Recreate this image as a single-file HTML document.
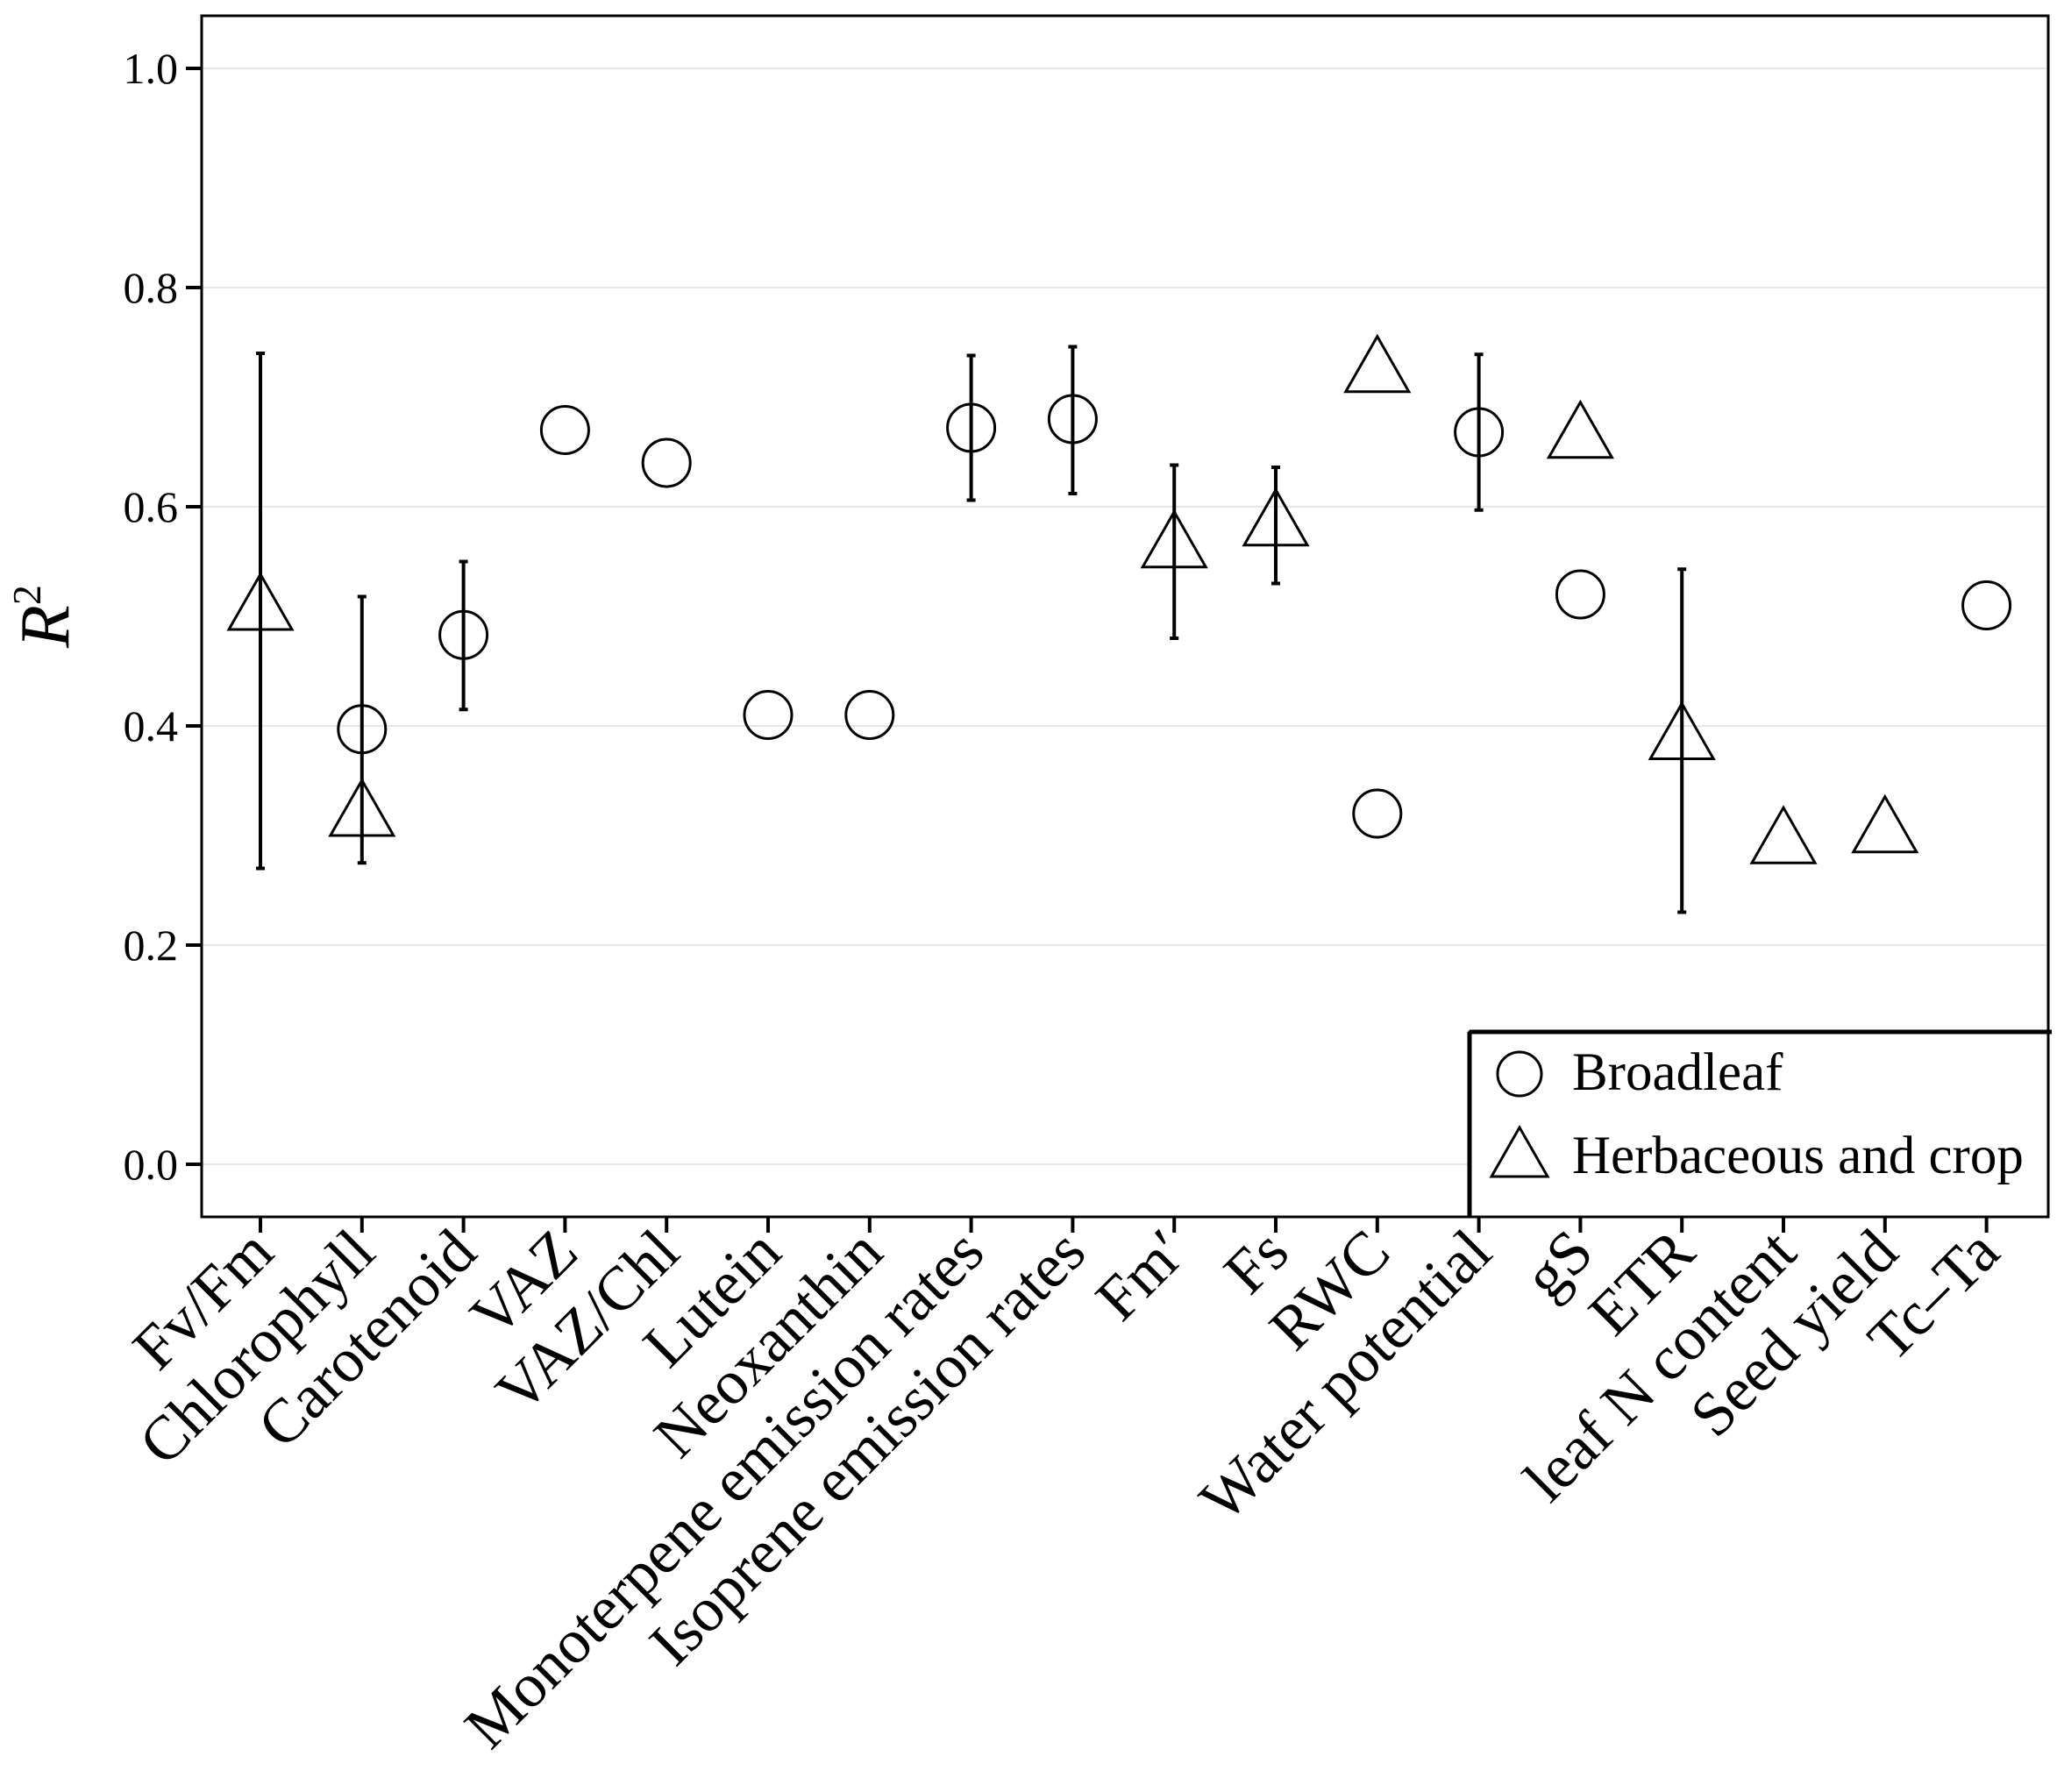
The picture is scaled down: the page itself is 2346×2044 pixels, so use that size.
<!DOCTYPE html>
<html><head><meta charset="utf-8"><style>
html,body{margin:0;padding:0;background:#fff;}
svg{display:block;font-family:"Liberation Serif",serif;}
</style></head><body>
<svg id="chart" width="2346" height="2044" viewBox="0 0 2346 2044">
<g id="grid"></g>
<rect x="230" y="18" width="2106" height="1370" fill="none" stroke="#000" stroke-width="3"/>
<g id="yaxis"></g>
<g id="xaxis"></g>
<g id="marks"></g>
<text x="0" y="0" transform="translate(78,703) rotate(-90)" text-anchor="middle" font-size="80" font-style="italic">R<tspan font-size="46" font-style="normal" dy="-32">2</tspan></text>
<g>
<rect x="1676" y="1177" width="660" height="211" fill="#fff" stroke="#000" stroke-width="3"/>
<line x1="1676" y1="1177" x2="2340" y2="1177" stroke="#000" stroke-width="5"/>
<line x1="1676" y1="1177" x2="1676" y2="1388" stroke="#000" stroke-width="5"/>
<circle cx="1733" cy="1225" r="25" fill="none" stroke="#000" stroke-width="3"/>
<text x="1793" y="1243" font-size="61">Broadleaf</text>
<polygon points="1733,1286 1701,1342 1765,1342" fill="none" stroke="#000" stroke-width="3"/>
<text x="1793" y="1338" font-size="61">Herbaceous and crop</text>
</g>
</svg>
<script>
const categories=["Fv/Fm","Chlorophyll","Carotenoid","VAZ","VAZ/Chl","Lutein","Neoxanthin","Monoterpene emission rates","Isoprene emission rates","Fm\u2032","Fs","RWC","Water potential","gS","ETR","leaf N content","Seed yield","Tc\u2013Ta"];
const yTicks=[0,0.2,0.4,0.6,0.8,1.0];
const broadIdx=[1,2,3,4,5,6,7,8,11,12,13,17];
const broadVal=[0.397,0.483,0.67,0.64,0.41,0.41,0.672,0.68,0.32,0.668,0.52,0.51];
const broadLo=[0.275,0.415,null,null,null,null,0.606,0.612,null,0.597,null,null];
const broadHi=[0.518,0.55,null,null,null,null,0.738,0.746,null,0.739,null,null];
const herbIdx=[0,1,9,10,11,13,14,15,16];
const herbVal=[0.508,0.32,0.565,0.585,0.725,0.665,0.39,0.295,0.305];
const herbLo=[0.27,null,0.48,0.53,null,null,0.23,null,null];
const herbHi=[0.74,null,0.638,0.636,null,null,0.543,null,null];

const NS="http://www.w3.org/2000/svg";
const X=i=>297+i*115.8;
const Y=v=>1328-v*1250;
function mk(t,a,p){const e=document.createElementNS(NS,t);for(const k in a)e.setAttribute(k,a[k]);p.appendChild(e);return e;}
const grid=document.getElementById('grid'),ya=document.getElementById('yaxis'),xa=document.getElementById('xaxis'),marks=document.getElementById('marks');
yTicks.forEach(v=>{
 const g=mk('line',{x1:230,x2:2336,y1:Y(v),y2:Y(v),stroke:'#e6e6e6','stroke-width':2},grid);
 
 
 const t=mk('line',{x1:212,x2:230,y1:Y(v),y2:Y(v),stroke:'#000','stroke-width':4},ya);
 
 
 const l=mk('text',{x:203,y:Y(v)+17,'text-anchor':'end','font-size':50},ya);
 l.textContent=v.toFixed(1);
 
 
});
categories.forEach((c,i)=>{
 const t=mk('line',{x1:X(i),x2:X(i),y1:1388,y2:1406,stroke:'#000','stroke-width':4},xa);
 
 
 const l=mk('text',{x:0,y:0,'text-anchor':'end','font-size':71,transform:`translate(${X(i)+18},${1432}) rotate(-45)`},xa);
 l.textContent=c;
 
 
});
function err(i,lo,hi){
 const g=mk('g',{stroke:'#000','stroke-width':4},marks);
 
 
 mk('line',{x1:X(i),x2:X(i),y1:Y(lo),y2:Y(hi)},g);
 mk('line',{x1:X(i)-5,x2:X(i)+5,y1:Y(lo),y2:Y(lo)},g);
 mk('line',{x1:X(i)-5,x2:X(i)+5,y1:Y(hi),y2:Y(hi)},g);
}
broadIdx.forEach((i,k)=>{
 if(broadLo[k]!==null)err(i,broadLo[k],broadHi[k]);
 const c=mk('circle',{cx:X(i),cy:Y(broadVal[k]),r:27,fill:'none',stroke:'#000','stroke-width':3},marks);
 
 
});
herbIdx.forEach((i,k)=>{
 if(herbLo[k]!==null)err(i,herbLo[k],herbHi[k]);
 const x=X(i),y=Y(herbVal[k]);
 const p=mk('polygon',{points:`${x},${y-38} ${x-36},${y+25} ${x+36},${y+25}`,fill:'none',stroke:'#000','stroke-width':3},marks);
 
 
});
</script>
</body></html>
